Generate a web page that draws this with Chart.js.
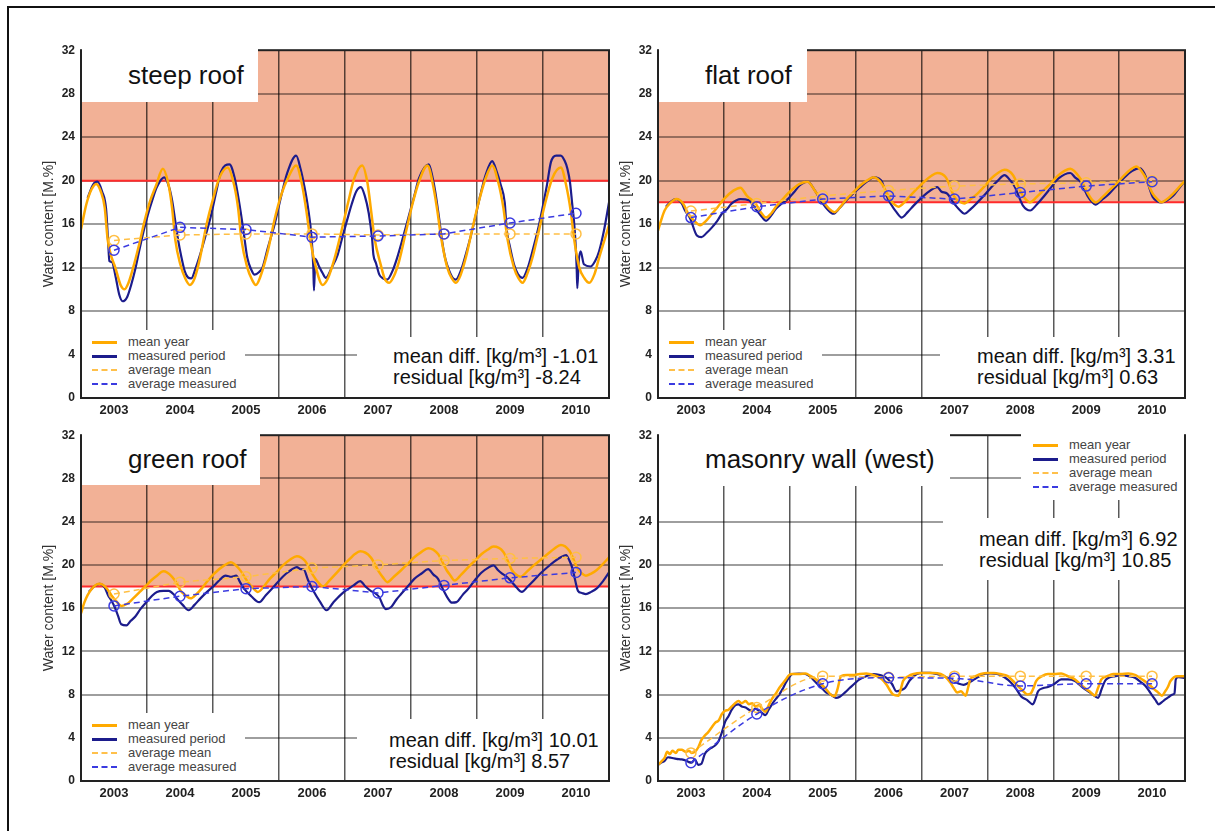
<!DOCTYPE html>
<html>
<head>
<title>Water content</title>
<script src="https://cdn.jsdelivr.net/npm/chart.js"></script>
<style>
  body { margin: 0; background: #fff; font-family: "Liberation Sans", Arial, sans-serif; }
  .frame { position: absolute; left: 7px; top: 6px; width: 1300px; height: 900px; border: 2px solid #111; }
  .panel { position: absolute; }
  .box { position: absolute; background: #fff; box-sizing: border-box; white-space: nowrap; }
  .title { font-size: 26px; color: #111; padding-left: 46px; }
  .legend { font-size: 13px; color: #444; padding-top: 5px; }
  .legend div { height: 14px; line-height: 14px; display: flex; align-items: center; }
  .legend span { display: inline-block; width: 25px; margin-right: 11px; height: 0; }
  .s1 { border-top: 3px solid #ffaa00; }
  .s2 { border-top: 3px solid #1c1c8c; }
  .s3 { border-top: 2px dashed #ffc04a; }
  .s4 { border-top: 2px dashed #3b3be0; }
  .stat { font-size: 20px; line-height: 21px; color: #111; }
</style>
</head>
<body>
<div class="frame"></div>

<div class="panel" style="left:21px;top:37px"><canvas id="steep" width="596" height="389"></canvas></div>
<div class="panel" style="left:598px;top:37px"><canvas id="flat" width="595" height="389"></canvas></div>
<div class="panel" style="left:21px;top:422px"><canvas id="green" width="596" height="387"></canvas></div>
<div class="panel" style="left:598px;top:422px"><canvas id="wall" width="595" height="387"></canvas></div>

<!-- steep roof -->
<div class="box title" style="left:82px;top:48px;width:176px;height:54px;line-height:54px">steep roof</div>
<div class="box legend" style="left:82px;top:330px;width:163px;height:67px;padding-left:10px">
  <div><span class="s1"></span>mean year</div>
  <div><span class="s2"></span>measured period</div>
  <div><span class="s3"></span>average mean</div>
  <div><span class="s4"></span>average measured</div>
</div>
<div class="box stat" style="left:357px;top:337px;width:251px;height:60px;padding:9px 0 0 36px">mean diff. [kg/m³] -1.01<br>residual [kg/m³] -8.24</div>

<!-- flat roof -->
<div class="box title" style="left:659px;top:48px;width:148px;height:54px;line-height:54px">flat roof</div>
<div class="box legend" style="left:659px;top:330px;width:163px;height:67px;padding-left:10px">
  <div><span class="s1"></span>mean year</div>
  <div><span class="s2"></span>measured period</div>
  <div><span class="s3"></span>average mean</div>
  <div><span class="s4"></span>average measured</div>
</div>
<div class="box stat" style="left:940px;top:337px;width:244px;height:60px;padding:9px 0 0 37px">mean diff. [kg/m³] 3.31<br>residual [kg/m³] 0.63</div>

<!-- green roof -->
<div class="box title" style="left:82px;top:433px;width:178px;height:52px;line-height:52px">green roof</div>
<div class="box legend" style="left:82px;top:713px;width:163px;height:67px;padding-left:10px">
  <div><span class="s1"></span>mean year</div>
  <div><span class="s2"></span>measured period</div>
  <div><span class="s3"></span>average mean</div>
  <div><span class="s4"></span>average measured</div>
</div>
<div class="box stat" style="left:357px;top:719px;width:251px;height:61px;padding:11px 0 0 32px">mean diff. [kg/m³] 10.01<br>residual [kg/m³] 8.57</div>

<!-- masonry wall -->
<div class="box title" style="left:659px;top:433px;width:291px;height:53px;line-height:53px">masonry wall (west)</div>
<div class="box legend" style="left:1021px;top:433px;width:163px;height:67px;padding-left:12px">
  <div><span class="s1"></span>mean year</div>
  <div><span class="s2"></span>measured period</div>
  <div><span class="s3"></span>average mean</div>
  <div><span class="s4"></span>average measured</div>
</div>
<div class="box stat" style="left:943px;top:518px;width:241px;height:62px;padding:11px 0 0 36px">mean diff. [kg/m³] 6.92<br>residual [kg/m³] 10.85</div>

<script>
const FONT = '"Liberation Sans", Arial, sans-serif';

const yearTicks = ['2003', '2004', '2005', '2006', '2007', '2008', '2009', '2010'];
const avgYears = [2003.5, 2004.5, 2005.5, 2006.5, 2007.5, 2008.5, 2009.5, 2010.5];

// steep roof
const steepMeanT = [2003.00,2003.08,2003.16,2003.23,2003.30,2003.36,2003.40,2003.42,2003.46,2003.52,2003.60,2003.66,2003.72,2003.80,2003.88,2003.96,
  2004.04,2004.14,2004.24,2004.32,2004.38,2004.43,2004.50,2004.58,2004.65,2004.72,2004.80,2004.90,
  2005.00,2005.10,2005.22,2005.32,2005.38,2005.43,2005.52,2005.59,2005.65,2005.72,2005.83,2005.94,
  2006.04,2006.14,2006.26,2006.35,2006.42,2006.48,2006.56,2006.66,2006.74,2006.84,2006.94,
  2007.04,2007.14,2007.26,2007.34,2007.40,2007.45,2007.54,2007.60,2007.67,2007.74,2007.82,2007.92,
  2008.02,2008.12,2008.25,2008.34,2008.40,2008.45,2008.55,2008.62,2008.68,2008.75,2008.83,2008.92,
  2009.02,2009.13,2009.23,2009.32,2009.40,2009.46,2009.56,2009.63,2009.69,2009.76,2009.84,2009.93,
  2010.02,2010.14,2010.27,2010.35,2010.42,2010.47,2010.55,2010.63,2010.70,2010.78,2010.85,2010.93,2011.00];
const steepMeanV = [15.5,17.8,19.2,19.7,19.0,17.5,14.8,14.0,13.0,12.0,10.4,10.0,10.6,12.2,14.1,16.2,
  18.0,19.6,21.1,19.8,17.5,14.5,12.4,11.0,10.4,11.0,12.8,15.9,
  18.3,20.3,21.2,19.6,17.5,14.6,12.0,10.9,10.4,11.2,13.5,16.6,
  18.8,20.3,21.4,19.6,17.0,14.3,12.0,10.4,11.0,12.8,15.2,
  17.8,20.2,21.4,19.8,17.0,14.6,12.3,11.0,10.6,11.2,12.6,15.2,
  17.8,19.9,21.4,19.4,17.2,15.0,12.0,11.0,10.6,11.3,12.9,15.3,
  17.9,20.2,21.4,19.9,17.5,14.7,12.0,11.0,10.6,11.4,12.9,15.2,
  17.6,20.2,21.2,19.6,17.2,14.7,12.0,11.0,10.6,11.4,12.9,14.5,15.9];
const steepMeasT = [2003.10,2003.18,2003.25,2003.32,2003.38,2003.41,2003.43,2003.47,2003.52,2003.58,2003.63,2003.70,2003.76,2003.82,2003.88,2003.95,
  2004.01,2004.08,2004.15,2004.26,2004.33,2004.38,2004.43,2004.47,2004.52,2004.57,2004.62,2004.67,2004.74,2004.82,2004.90,2004.97,
  2005.05,2005.12,2005.25,2005.33,2005.38,2005.42,2005.47,2005.52,2005.58,2005.63,2005.70,2005.75,2005.83,2005.93,
  2006.03,2006.13,2006.26,2006.33,2006.38,2006.44,2006.49,2006.52,2006.53,2006.55,2006.60,2006.66,2006.71,2006.80,2006.89,2006.96,
  2007.02,2007.10,2007.17,2007.24,2007.30,2007.36,2007.41,2007.43,2007.47,2007.52,2007.58,2007.64,2007.72,2007.79,2007.88,2007.97,
  2008.05,2008.12,2008.27,2008.33,2008.37,2008.42,2008.48,2008.52,2008.58,2008.64,2008.68,2008.76,2008.83,2008.91,2008.98,
  2009.06,2009.13,2009.23,2009.30,2009.36,2009.42,2009.45,2009.50,2009.56,2009.62,2009.69,2009.77,2009.84,2009.92,2009.99,
  2010.06,2010.12,2010.20,2010.27,2010.33,2010.37,2010.41,2010.44,2010.48,2010.51,2010.52,2010.54,2010.57,2010.62,2010.72,2010.79,2010.85,2010.93,2011.00];
const steepMeasV = [18.4,19.6,19.9,19.0,17.4,14.5,12.6,12.5,11.3,9.5,8.9,9.3,10.4,11.8,13.5,15.4,
  16.8,18.2,19.4,20.3,19.5,18.2,16.2,14.6,13.0,11.7,11.1,11.0,12.0,13.5,15.2,16.8,
  19.0,20.8,21.5,20.2,18.6,17.1,15.0,12.9,11.8,11.35,11.6,12.0,13.8,15.9,
  18.5,20.8,22.3,21.0,19.6,17.5,15.0,12.0,9.9,12.8,12.2,11.5,11.05,12.0,13.2,14.8,
  16.1,17.8,19.0,19.4,18.6,17.0,14.7,13.2,12.4,11.35,11.0,10.9,11.7,12.9,14.8,16.8,
  18.6,20.2,21.5,20.2,18.9,16.8,14.1,12.8,11.7,11.0,10.9,11.8,13.2,15.0,16.8,
  18.9,20.5,21.8,20.8,19.6,18.0,15.5,13.9,12.3,11.4,11.05,12.0,13.5,15.4,17.4,
  19.6,21.7,22.3,22.3,21.8,21.1,19.8,18.0,15.5,12.0,10.1,12.5,13.5,12.3,12.1,12.6,13.5,15.6,18.0];
const steepAvgMean = [14.5, 15.0, 15.1, 15.1, 15.0, 15.1, 15.1, 15.1];
const steepAvgMeas = [13.6, 15.7, 15.5, 14.8, 14.9, 15.1, 16.1, 17.0];

// flat roof
const flatMeanT = [2003.00,2003.05,2003.10,2003.18,2003.28,2003.38,2003.46,2003.55,2003.64,2003.73,2003.82,2003.91,
  2004.00,2004.15,2004.25,2004.35,2004.48,2004.56,2004.64,2004.72,2004.79,2004.88,2004.97,
  2005.06,2005.15,2005.27,2005.40,2005.53,2005.60,2005.68,2005.77,2005.86,2005.96,
  2006.07,2006.17,2006.27,2006.40,2006.53,2006.59,2006.65,2006.74,2006.83,2006.94,
  2007.04,2007.14,2007.24,2007.37,2007.50,2007.57,2007.65,2007.75,2007.85,2007.96,
  2008.06,2008.16,2008.26,2008.39,2008.52,2008.58,2008.65,2008.75,2008.85,2008.97,
  2009.08,2009.17,2009.26,2009.41,2009.52,2009.58,2009.64,2009.75,2009.85,2009.97,
  2010.08,2010.17,2010.26,2010.38,2010.51,2010.58,2010.64,2010.73,2010.82,2010.91,2011.00];
const flatMeanV = [15.4,16.4,17.25,17.9,18.3,17.9,16.95,16.3,15.9,16.3,16.95,17.6,
  18.3,19.1,19.35,18.6,17.9,17.1,16.6,17.0,17.6,18.2,18.8,
  19.3,19.7,19.9,18.9,17.9,17.4,17.1,17.6,18.3,18.9,
  19.55,20.0,20.3,19.7,18.2,17.8,17.6,18.0,18.6,19.3,
  19.9,20.4,20.7,20.3,18.5,18.1,17.9,18.3,18.8,19.5,
  20.2,20.7,21.0,20.5,18.8,18.3,18.0,18.5,19.1,19.8,
  20.5,20.9,21.1,20.2,18.9,18.3,18.0,18.5,19.1,19.8,
  20.5,21.0,21.3,20.5,18.8,18.3,18.0,18.3,18.8,19.4,20.0];
const flatMeasT = [2003.12,2003.20,2003.28,2003.36,2003.41,2003.49,2003.59,2003.66,2003.74,2003.82,2003.90,2003.97,
  2004.05,2004.12,2004.25,2004.38,2004.48,2004.56,2004.64,2004.72,2004.79,2004.88,2004.97,
  2005.06,2005.15,2005.27,2005.38,2005.44,2005.50,2005.58,2005.66,2005.76,2005.86,2005.96,
  2006.07,2006.17,2006.27,2006.35,2006.40,2006.47,2006.53,2006.62,2006.70,2006.79,2006.88,2006.98,
  2007.09,2007.24,2007.30,2007.39,2007.47,2007.52,2007.58,2007.65,2007.75,2007.85,2007.96,
  2008.06,2008.16,2008.26,2008.35,2008.42,2008.48,2008.54,2008.65,2008.75,2008.85,2008.97,
  2009.08,2009.26,2009.33,2009.41,2009.52,2009.58,2009.64,2009.75,2009.85,2009.97,
  2010.08,2010.20,2010.31,2010.36,2010.41,2010.46,2010.51,2010.58,2010.64,2010.73,2010.82,2010.91,2011.00];
const flatMeasV = [17.6,18.1,18.3,17.9,17.25,16.5,14.95,14.8,15.2,15.7,16.3,16.95,
  17.4,17.9,18.3,18.2,17.4,16.8,16.3,16.8,17.4,17.9,18.3,
  18.9,19.55,19.9,19.1,18.5,17.9,17.3,16.95,17.5,18.2,18.8,
  19.4,19.9,20.3,20.2,19.9,18.6,17.9,17.1,16.6,17.1,17.7,18.3,
  18.9,19.4,19.0,18.8,18.1,17.7,17.3,16.95,17.4,18.0,18.7,
  19.4,20.0,20.5,20.0,19.4,18.5,17.7,17.25,17.8,18.5,19.4,
  20.2,20.7,20.3,19.9,18.6,18.1,17.8,18.3,18.8,19.6,
  20.3,20.9,21.15,20.9,20.3,19.3,18.5,18.1,18.0,18.2,18.6,19.3,20.0];
const flatAvgMean = [17.2, 17.9, 18.6, 19.1, 19.5, 19.7, 19.8, 20.0];
const flatAvgMeas = [16.6, 17.6, 18.3, 18.6, 18.3, 18.9, 19.5, 19.9];

// green roof
const greenMeanT = [2003.00,2003.05,2003.10,2003.18,2003.28,2003.38,2003.46,2003.54,2003.61,2003.70,2003.79,2003.89,
  2003.99,2004.07,2004.15,2004.25,2004.38,2004.45,2004.51,2004.58,2004.66,2004.75,2004.84,2004.93,
  2005.02,2005.17,2005.27,2005.40,2005.53,2005.60,2005.68,2005.77,2005.86,2005.96,
  2006.06,2006.17,2006.27,2006.39,2006.52,2006.59,2006.67,2006.77,2006.88,2006.98,
  2007.08,2007.15,2007.23,2007.39,2007.52,2007.58,2007.64,2007.74,2007.85,2007.95,
  2008.05,2008.16,2008.26,2008.41,2008.54,2008.60,2008.66,2008.76,2008.87,2008.97,
  2009.07,2009.16,2009.25,2009.40,2009.53,2009.59,2009.66,2009.76,2009.86,2009.97,
  2010.07,2010.17,2010.27,2010.40,2010.53,2010.59,2010.65,2010.73,2010.81,2010.91,2011.00];
const greenMeanV = [15.5,16.5,17.2,17.9,18.25,17.9,17.2,16.6,16.2,16.4,16.9,17.5,
  18.1,18.6,19.0,19.4,18.9,18.3,17.6,17.2,16.9,17.3,17.9,18.6,
  19.2,19.95,20.25,19.6,18.4,17.9,17.5,18.0,18.7,19.3,
  19.95,20.5,20.8,20.4,19.0,18.4,18.0,18.6,19.3,20.0,
  20.6,21.0,21.25,20.7,19.3,18.8,18.4,18.9,19.5,20.1,
  20.7,21.2,21.55,21.0,19.5,19.0,18.55,19.1,19.8,20.4,
  21.0,21.4,21.7,21.2,19.5,19.1,18.9,19.4,19.95,20.5,
  21.0,21.5,21.85,21.3,19.6,19.2,19.0,19.2,19.5,20.1,20.7];
const greenMeasT = [2003.12,2003.20,2003.28,2003.36,2003.41,2003.46,2003.51,2003.56,2003.61,2003.69,2003.75,2003.82,2003.90,
  2003.99,2004.07,2004.15,2004.25,2004.33,2004.40,2004.45,2004.54,2004.63,2004.72,2004.81,2004.91,
  2005.02,2005.10,2005.19,2005.28,2005.35,2005.41,2005.47,2005.58,2005.70,2005.80,2005.91,
  2006.01,2006.11,2006.20,2006.27,2006.33,2006.37,2006.44,2006.52,2006.62,2006.72,2006.82,2006.93,
  2007.03,2007.13,2007.23,2007.31,2007.39,2007.45,2007.52,2007.57,2007.62,2007.70,2007.78,2007.85,2007.95,
  2008.05,2008.16,2008.26,2008.34,2008.41,2008.48,2008.56,2008.62,2008.69,2008.78,2008.87,2008.97,
  2009.07,2009.16,2009.25,2009.32,2009.38,2009.45,2009.53,2009.60,2009.68,2009.77,2009.86,2009.96,
  2010.07,2010.17,2010.27,2010.35,2010.40,2010.45,2010.49,2010.53,2010.59,2010.65,2010.73,2010.81,2010.91,2011.00];
const greenMeasV = [17.5,18.0,18.25,17.9,17.2,16.7,16.1,15.3,14.5,14.4,14.8,15.2,15.9,
  16.55,17.1,17.5,17.6,17.6,17.3,16.9,16.3,15.8,16.3,16.9,17.5,
  18.1,18.6,19.0,18.9,19.0,18.4,17.8,17.1,16.55,17.2,17.9,
  18.6,19.2,19.6,19.8,19.6,19.6,18.6,17.6,16.6,15.8,16.5,17.2,
  17.7,18.1,18.5,18.0,17.6,17.4,17.0,16.3,15.9,16.1,16.8,17.3,18.0,
  18.7,19.2,19.6,19.1,18.7,17.8,16.9,16.5,16.55,17.2,17.8,18.6,
  19.3,19.7,19.95,19.5,19.2,18.9,18.4,17.9,17.5,18.0,18.55,19.2,
  19.8,20.3,20.7,20.9,20.4,19.6,18.5,17.6,17.4,17.3,17.5,17.8,18.5,19.3];
const greenAvgMean = [17.3, 18.4, 18.9, 19.7, 20.0, 20.4, 20.6, 20.7];
const greenAvgMeas = [16.2, 17.1, 17.8, 18.0, 17.4, 18.1, 18.8, 19.3];

// masonry wall (west)
const wallMeanT = [2003.00,2003.05,2003.10,2003.14,2003.18,2003.22,2003.27,2003.31,2003.36,2003.42,2003.47,2003.51,2003.56,2003.61,2003.66,2003.71,2003.76,2003.82,2003.87,2003.92,2003.97,
  2004.02,2004.07,2004.12,2004.17,2004.22,2004.27,2004.33,2004.38,2004.43,2004.48,2004.53,2004.58,2004.63,2004.68,2004.73,2004.79,2004.84,2004.89,2004.94,2004.99,
  2005.04,2005.14,2005.24,2005.32,2005.40,2005.47,2005.55,2005.62,2005.68,2005.72,2005.78,2005.87,2005.96,
  2006.06,2006.16,2006.32,2006.40,2006.47,2006.53,2006.57,2006.65,2006.69,2006.72,2006.80,2006.88,2006.98,
  2007.08,2007.18,2007.29,2007.37,2007.44,2007.49,2007.54,2007.60,2007.67,2007.71,2007.74,2007.82,2007.90,
  2008.00,2008.10,2008.20,2008.31,2008.38,2008.46,2008.53,2008.61,2008.66,2008.70,2008.74,2008.83,2008.92,
  2009.02,2009.12,2009.22,2009.33,2009.40,2009.48,2009.55,2009.63,2009.68,2009.73,2009.82,2009.91,
  2010.02,2010.14,2010.25,2010.35,2010.44,2010.53,2010.59,2010.65,2010.70,2010.74,2010.78,2010.88,2011.00];
const wallMeanV = [1.5,1.8,2.15,2.7,2.5,2.8,2.6,2.9,2.9,2.7,2.8,2.6,2.7,3.1,3.8,4.2,4.5,5.0,5.4,5.6,6.2,
  6.5,6.6,6.9,7.2,7.4,7.2,7.4,7.1,7.2,6.9,7.0,6.7,6.4,7.0,7.6,8.1,8.6,9.0,9.4,9.8,
  9.9,9.9,9.95,9.7,9.4,9.0,8.5,8.0,7.85,8.4,9.7,9.8,9.8,
  9.9,9.95,9.7,9.4,8.9,8.3,8.0,7.9,8.6,9.25,9.7,9.9,10.0,
  10.0,10.0,9.9,9.6,9.1,8.6,8.2,8.3,7.9,8.7,9.4,9.7,9.9,
  10.0,10.0,9.9,9.7,9.3,8.8,8.4,8.0,8.1,8.6,9.25,9.7,9.9,
  9.9,9.95,9.7,9.4,9.0,8.6,8.3,7.9,8.6,9.4,9.7,9.9,
  9.9,9.95,9.8,9.4,9.0,8.5,8.2,7.9,8.3,8.7,9.25,9.7,9.7];
const wallMeasT = [2003.00,2003.05,2003.10,2003.15,2003.20,2003.28,2003.36,2003.42,2003.47,2003.51,2003.56,2003.61,2003.66,2003.71,2003.77,2003.82,2003.87,2003.92,2003.97,
  2004.02,2004.07,2004.12,2004.17,2004.22,2004.27,2004.33,2004.38,2004.43,2004.48,2004.53,2004.58,2004.63,2004.68,2004.73,2004.79,2004.84,2004.89,2004.94,2004.99,
  2005.04,2005.14,2005.24,2005.32,2005.40,2005.47,2005.55,2005.62,2005.70,2005.76,2005.84,2005.91,2005.98,
  2006.06,2006.16,2006.27,2006.37,2006.47,2006.55,2006.62,2006.68,2006.75,2006.82,2006.93,
  2007.03,2007.13,2007.23,2007.34,2007.42,2007.49,2007.57,2007.64,2007.72,2007.80,2007.88,2007.95,
  2008.05,2008.15,2008.26,2008.36,2008.44,2008.51,2008.60,2008.69,2008.73,2008.77,2008.85,2008.92,
  2009.02,2009.12,2009.22,2009.33,2009.40,2009.48,2009.58,2009.68,2009.74,2009.79,2009.84,2009.94,
  2010.04,2010.14,2010.24,2010.32,2010.40,2010.48,2010.55,2010.60,2010.65,2010.70,2010.76,2010.81,2010.84,2010.86,2010.90,2011.00];
const wallMeasV = [1.5,1.7,1.85,2.2,2.15,2.05,2.0,1.9,1.75,1.7,2.0,1.5,1.6,2.5,2.9,3.1,3.3,3.7,4.5,
  5.5,6.0,6.6,7.0,7.1,6.9,6.8,6.6,6.5,6.7,6.5,6.3,6.1,6.6,7.1,7.6,8.0,8.5,9.1,9.6,
  9.9,9.95,9.9,9.6,9.1,8.7,8.2,8.0,7.7,7.8,8.2,8.6,9.0,
  9.4,9.7,9.9,9.8,9.55,9.0,8.3,8.4,8.6,9.3,9.9,
  10.0,10.0,9.9,9.7,9.5,9.25,9.0,8.9,9.1,9.4,9.7,9.9,
  9.95,9.9,9.6,9.1,8.5,7.85,7.5,7.1,7.6,8.3,8.6,8.7,
  9.0,9.4,9.4,9.25,8.9,8.5,8.1,7.7,8.6,9.3,9.55,9.7,
  9.8,9.7,9.55,9.2,8.8,8.1,7.5,7.1,7.3,7.55,7.8,8.0,8.1,9.4,9.6,9.55];
const wallAvgMean = [2.6, 6.8, 9.7, 9.6, 9.7, 9.7, 9.7, 9.7];
const wallAvgMeas = [1.7, 6.2, 9.0, 9.55, 9.5, 8.8, 9.0, 9.0];

function pts(t, v) {
  return t.map((x, i) => ({ x: x, y: v[i] }));
}

// salmon zone above the limit, red limit line, black frame round the plot
const decor = {
  id: 'decor',
  beforeDraw(chart, args, opts) {
    if (opts.limit == null) return;
    const { ctx, chartArea: a, scales: { y } } = chart;
    ctx.save();
    ctx.fillStyle = '#f2b196';
    ctx.fillRect(a.left, a.top, a.right - a.left, y.getPixelForValue(opts.limit) - a.top);
    ctx.restore();
  },
  beforeDatasetsDraw(chart, args, opts) {
    if (opts.limit == null) return;
    const { ctx, chartArea: a, scales: { y } } = chart;
    const py = y.getPixelForValue(opts.limit);
    ctx.save();
    ctx.strokeStyle = '#ff2b2b';
    ctx.lineWidth = 2;
    ctx.beginPath();
    ctx.moveTo(a.left, py);
    ctx.lineTo(a.right, py);
    ctx.stroke();
    ctx.restore();
  },
  afterDraw(chart) {
    const { ctx, chartArea: a } = chart;
    ctx.save();
    ctx.strokeStyle = '#222';
    ctx.lineWidth = 2;
    ctx.strokeRect(a.left, a.top, a.right - a.left, a.bottom - a.top);
    ctx.restore();
  }
};

function makePanel(id, meanT, meanV, measT, measV, avgMean, avgMeas, limit, smoothAvg) {
  const avgMode = smoothAvg ? 'monotone' : 'default';
  new Chart(document.getElementById(id), {
    type: 'line',
    data: {
      datasets: [
        {
          label: 'average measured',
          data: pts(avgYears, avgMeas),
          borderColor: '#3b3be0', borderWidth: 1.5, borderDash: [6, 4],
          pointRadius: 5, pointBorderWidth: 1.5, pointBorderColor: '#3b3be0',
          pointBackgroundColor: 'rgba(0,0,0,0)', cubicInterpolationMode: avgMode, tension: smoothAvg ? 0.4 : 0
        },
        {
          label: 'average mean',
          data: pts(avgYears, avgMean),
          borderColor: '#ffbf45', borderWidth: 1.5, borderDash: [6, 4],
          pointRadius: 5, pointBorderWidth: 1.5, pointBorderColor: '#ffbf45',
          pointBackgroundColor: 'rgba(0,0,0,0)', cubicInterpolationMode: avgMode, tension: smoothAvg ? 0.4 : 0
        },
        {
          label: 'mean year',
          data: pts(meanT, meanV),
          borderColor: '#ffaa00', borderWidth: 2.5, pointRadius: 0,
          cubicInterpolationMode: 'monotone'
        },
        {
          label: 'measured period',
          data: pts(measT, measV),
          borderColor: '#1c1c8c', borderWidth: 2.2, pointRadius: 0,
          cubicInterpolationMode: 'monotone'
        }
      ]
    },
    options: {
      responsive: false,
      animation: false,
      layout: { padding: { top: 10, right: 8, left: 0, bottom: 0 } },
      plugins: {
        legend: { display: false },
        tooltip: { enabled: false },
        decor: { limit: limit }
      },
      scales: {
        x: {
          type: 'linear', min: 2003, max: 2011,
          afterBuildTicks: (s) => {
            const t = [];
            for (let yr = 2003; yr <= 2011; yr++) {
              t.push({ value: yr });
              if (yr < 2011) t.push({ value: yr + 0.5 });
            }
            s.ticks = t;
          },
          afterFit: (s) => { s.height = 28; },
          border: { display: false },
          grid: {
            drawTicks: false, lineWidth: 1.5,
            color: (c) => (c.tick && Number.isInteger(c.tick.value) && c.tick.value > 2003 && c.tick.value < 2011)
              ? 'rgba(0,0,0,0.65)' : 'rgba(0,0,0,0)'
          },
          ticks: {
            autoSkip: false, maxRotation: 0, padding: 5, color: '#222',
            font: { family: FONT, size: 13, weight: 'bold' },
            callback: (v) => (Number.isInteger(v) ? '' : yearTicks[Math.floor(v) - 2003])
          }
        },
        y: {
          min: 0, max: 32,
          afterFit: (s) => { s.width = 60; },
          border: { display: false },
          grid: {
            drawTicks: false, lineWidth: 2,
            color: (c) => (c.tick && (c.tick.value === 0 || c.tick.value === 32)) ? 'rgba(0,0,0,0)' : 'rgba(0,0,0,0.38)'
          },
          ticks: {
            stepSize: 4, padding: 6, color: '#222',
            font: { family: FONT, size: 12, weight: 'bold' }
          },
          title: {
            display: true, text: 'Water content [M.%]', color: '#333',
            padding: { top: 20, bottom: 0 },
            font: { family: FONT, size: 14 }
          }
        }
      }
    },
    plugins: [decor]
  });
}

makePanel('steep', steepMeanT, steepMeanV, steepMeasT, steepMeasV, steepAvgMean, steepAvgMeas, 20, false);
makePanel('flat', flatMeanT, flatMeanV, flatMeasT, flatMeasV, flatAvgMean, flatAvgMeas, 18, false);
makePanel('green', greenMeanT, greenMeanV, greenMeasT, greenMeasV, greenAvgMean, greenAvgMeas, 18, false);
makePanel('wall', wallMeanT, wallMeanV, wallMeasT, wallMeasV, wallAvgMean, wallAvgMeas, null, true);
</script>
</body>
</html>
